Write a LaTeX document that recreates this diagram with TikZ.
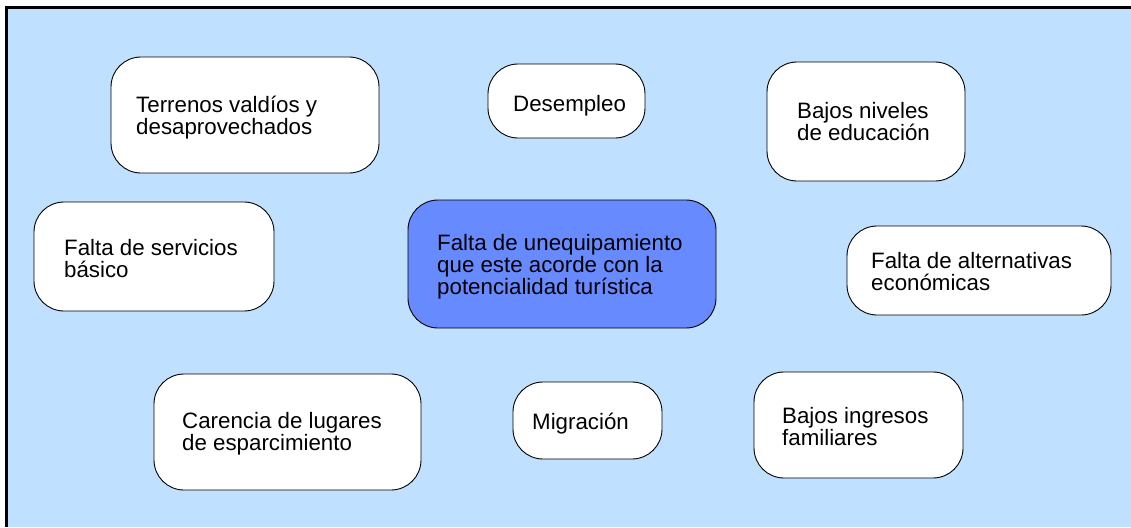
\documentclass[tikz,border=0pt]{standalone}
\usepackage{fontspec}
\setmainfont{Liberation Sans}
\definecolor{bgblue}{RGB}{192,224,255}
\definecolor{corefill}{RGB}{104,138,255}
\tikzset{
  box/.style={draw=black, line width=0.9pt, fill=white, rounded corners=30pt},
  corebox/.style={box, fill=corefill},
  lbl/.style={anchor=base west, inner sep=0pt, align=left, font=\fontsize{22.3}{22}\selectfont}
}
\begin{document}
\begin{tikzpicture}[x=1pt,y=-1pt]
\useasboundingbox (0,0) rectangle (1131,527);
\fill[bgblue] (7,7.5) rectangle (1131,527);
\draw[line width=2.5pt] (6.5,527) -- (6.5,7.5) -- (1131,7.5);
% boxes
\draw[box] (111,57) rectangle (379,173);
\draw[box] (488,64) rectangle (645,138);
\draw[box] (767,62) rectangle (965,181);
\draw[box] (34,202) rectangle (274,311);
\draw[corebox] (408,200) rectangle (716,328);
\draw[box] (847,226) rectangle (1111,315);
\draw[box] (154,374) rectangle (421,490);
\draw[box] (513,382) rectangle (662,459);
\draw[box] (754,372) rectangle (963,478);
% labels (anchor = baseline of last line)
\node[lbl] (t1) at (136,134) {Terrenos valdíos y\\desaprovechados};
\node[lbl] (t2) at (513,111) {Desempleo};
\node[lbl] (t3) at (797,140) {Bajos niveles\\de educación};
\node[lbl] (t4) at (64,277) {Falta de servicios\\básico};
\node[lbl] (t5) at (437,294) {Falta de unequipamiento\\que este acorde con la\\potencialidad turística};
\node[lbl] (t6) at (871,290) {Falta de alternativas\\económicas};
\node[lbl] (t7) at (182,450) {Carencia de lugares\\de esparcimiento};
\node[lbl] (t8) at (532,429) {Migración};
\node[lbl] (t9) at (782,445) {Bajos ingresos\\familiares};
\end{tikzpicture}
\end{document}
